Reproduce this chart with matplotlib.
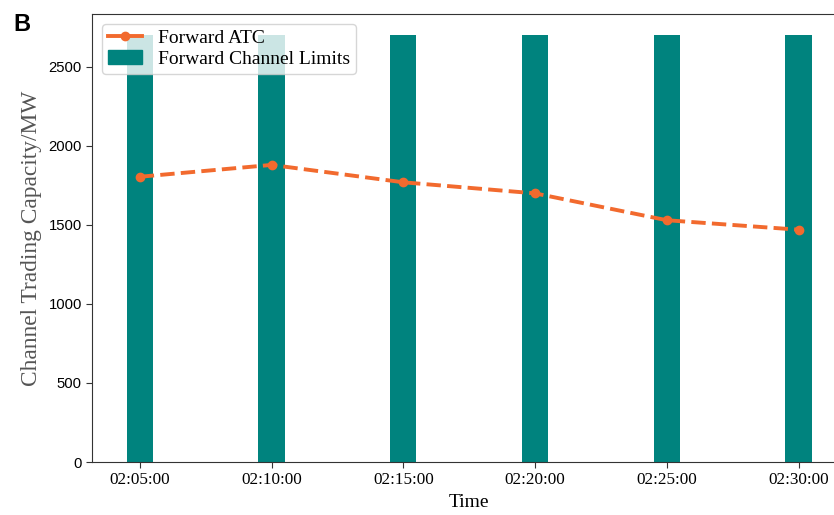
import numpy as np
import matplotlib
matplotlib.use("Agg")
import matplotlib.pyplot as plt
from matplotlib.lines import Line2D
from matplotlib.patches import Patch

# data
times = ["02:05:00", "02:10:00", "02:15:00", "02:20:00", "02:25:00", "02:30:00"]
atc = [1805, 1880, 1770, 1700, 1530, 1470]
limits = [2700, 2700, 2700, 2700, 2700, 2700]

serif = "Liberation Serif"
orange = "#f26a2e"
teal = "#00837e"

fig = plt.figure(figsize=(8.34, 5.15), dpi=100)
ax = fig.add_axes([92.3 / 834, 53 / 515, 753.7 / 834, 448 / 515])

x = np.arange(len(times))
ax.bar(x, limits, width=0.2, color=teal, zorder=2)
ax.plot(x, atc, color=orange, ls="--", lw=2.8, marker="o", ms=6, zorder=3)

ax.set_xlim(-0.36, 5.36)
ax.set_ylim(0, 2835)
ax.set_xticks(x)
ax.set_xticklabels(times, fontfamily=serif, fontsize=12.3)
ax.set_yticks([0, 500, 1000, 1500, 2000, 2500])
for t in ax.get_yticklabels():
    t.set_fontfamily("Liberation Sans")
    t.set_fontsize(10.7)
ax.tick_params(length=4, color="#333333")
for s in ax.spines.values():
    s.set_color("#333333")

ax.set_xlabel("Time", fontfamily=serif, fontsize=14, labelpad=4)
ax.set_ylabel("Channel Trading Capacity/MW", fontfamily=serif, fontsize=16.8,
              color="#555555", labelpad=5)

# legend handles as in the original (solid line with marker)
handles = [Line2D([], [], color=orange, lw=2.8, marker="o", ms=6),
           Patch(color=teal)]
ax.legend(handles, ["Forward ATC", "Forward Channel Limits"], loc="upper left",
          prop={"family": serif, "size": 14}, framealpha=0.8, borderaxespad=0.5,
          handlelength=1.75, labelspacing=0.15, borderpad=0.3, handletextpad=0.85)

fig.text(13 / 834, 1 - 31 / 515, "B", fontfamily="Liberation Sans", fontweight="bold", fontsize=17)

fig.savefig("out.png", dpi=100)
